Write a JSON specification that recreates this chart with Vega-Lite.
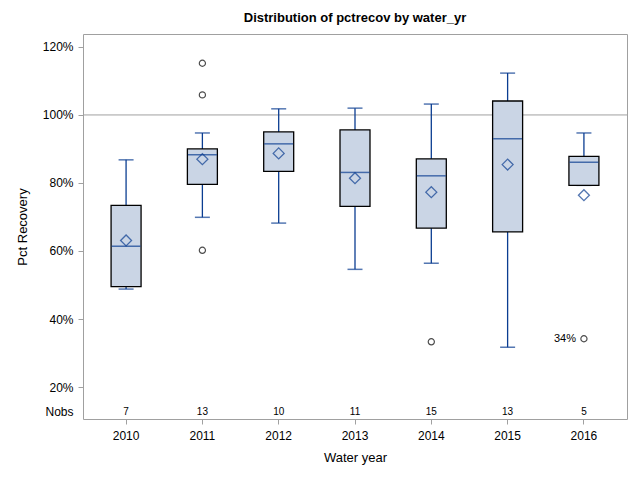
{
  "$schema": "https://vega.github.io/schema/vega-lite/v6.json",
  "width": 544,
  "height": 385,
  "autosize": {"type": "none"},
  "padding": {"left": 83, "top": 34, "right": 13, "bottom": 61},
  "background": "white",
  "title": {"text": "Distribution of pctrecov by water_yr", "font": "Liberation Sans", "fontSize": 13, "fontWeight": "bold", "color": "#000000", "offset": 9, "anchor": "middle"},
  "config": {
    "view": {"stroke": "#a0a0a0", "strokeWidth": 1},
    "axis": {"labelFont": "Liberation Sans", "titleFont": "Liberation Sans", "labelColor": "#000000", "titleColor": "#000000", "titleFontWeight": "normal", "labelFontSize": 12, "titleFontSize": 13, "grid": false, "domain": false, "tickColor": "#a0a0a0", "tickSize": 5}
  },
  "datasets": {
    "stats": [
      {"year": "2010", "lo": 48.8, "q1": 49.5, "med": 61.4, "q3": 73.4, "hi": 86.8, "mean": 63.1, "n": 7},
      {"year": "2011", "lo": 69.9, "q1": 79.6, "med": 88.3, "q3": 90.0, "hi": 94.7, "mean": 87.0, "n": 13},
      {"year": "2012", "lo": 68.2, "q1": 83.4, "med": 91.5, "q3": 95.0, "hi": 101.8, "mean": 88.7, "n": 10},
      {"year": "2013", "lo": 54.6, "q1": 73.1, "med": 83.1, "q3": 95.6, "hi": 102.0, "mean": 81.4, "n": 11},
      {"year": "2014", "lo": 56.4, "q1": 66.7, "med": 82.1, "q3": 87.1, "hi": 103.2, "mean": 77.3, "n": 15},
      {"year": "2015", "lo": 31.7, "q1": 65.6, "med": 93.0, "q3": 104.1, "hi": 112.3, "mean": 85.4, "n": 13},
      {"year": "2016", "lo": 79.3, "q1": 79.3, "med": 86.1, "q3": 87.8, "hi": 94.7, "mean": 76.4, "n": 5}
    ],
    "outliers": [
      {"year": "2011", "v": 115.2, "label": ""},
      {"year": "2011", "v": 105.9, "label": ""},
      {"year": "2011", "v": 60.2, "label": ""},
      {"year": "2014", "v": 33.3, "label": ""},
      {"year": "2016", "v": 34.2, "label": "34%"}
    ]
  },
  "encoding": {
    "x": {"field": "year", "type": "nominal", "sort": null,
      "scale": {"type": "band", "domain": ["2010","2011","2012","2013","2014","2015","2016"], "paddingInner": 0.607, "paddingOuter": 0.368},
      "axis": {"title": "Water year", "labelAngle": 0, "labelPadding": 6, "titlePadding": 10}}
  },
  "layer": [
    {
      "data": {"values": [{"ref": 100}]},
      "mark": {"type": "rule", "color": "#a0a0a0", "strokeWidth": 1},
      "encoding": {"x": null, "y": {"field": "ref", "type": "quantitative"}}
    },
    {
      "data": {"name": "stats"},
      "mark": {"type": "rule", "color": "#0b3d91", "strokeWidth": 1.3},
      "encoding": {
        "y": {"field": "lo", "type": "quantitative",
          "scale": {"domain": [10.6, 123.8], "nice": false, "zero": false},
          "axis": {"title": "Pct Recovery", "values": [12.7, 20, 40, 60, 80, 100, 120], "labelExpr": "datum.value < 15 ? 'Nobs' : datum.value + '%'", "tickColor": {"condition": {"test": "datum.value < 15", "value": "transparent"}, "value": "#a0a0a0"}, "labelPadding": 5, "titlePadding": 13}},
        "y2": {"field": "hi"}
      }
    },
    {
      "data": {"name": "stats"},
      "mark": {"type": "tick", "color": "#0b3d91", "size": 15, "thickness": 1.5},
      "encoding": {"y": {"field": "lo", "type": "quantitative"}}
    },
    {
      "data": {"name": "stats"},
      "mark": {"type": "tick", "color": "#0b3d91", "size": 15, "thickness": 1.5},
      "encoding": {"y": {"field": "hi", "type": "quantitative"}}
    },
    {
      "data": {"name": "stats"},
      "mark": {"type": "bar", "fill": "#cad5e5", "stroke": "#000000", "strokeWidth": 1.3},
      "encoding": {"y": {"field": "q1", "type": "quantitative"}, "y2": {"field": "q3"}}
    },
    {
      "data": {"name": "stats"},
      "mark": {"type": "tick", "color": "#0b3d91", "size": 29, "thickness": 1.5},
      "encoding": {"y": {"field": "med", "type": "quantitative"}}
    },
    {
      "data": {"name": "stats"},
      "mark": {"type": "point", "shape": "diamond", "filled": false, "color": "#0b3d91", "size": 120, "strokeWidth": 1.3},
      "encoding": {"y": {"field": "mean", "type": "quantitative"}}
    },
    {
      "data": {"name": "outliers"},
      "mark": {"type": "point", "shape": "circle", "filled": false, "color": "#000000", "size": 38, "strokeWidth": 1.2},
      "encoding": {"y": {"field": "v", "type": "quantitative"}}
    },
    {
      "data": {"name": "outliers"},
      "mark": {"type": "text", "align": "right", "baseline": "middle", "dx": -8, "font": "Liberation Sans", "fontSize": 11, "color": "#000000"},
      "encoding": {"y": {"field": "v", "type": "quantitative"}, "text": {"field": "label"}}
    },
    {
      "data": {"name": "stats"},
      "mark": {"type": "text", "baseline": "middle", "font": "Liberation Sans", "fontSize": 10, "color": "#000000"},
      "encoding": {"y": {"datum": 12.7, "type": "quantitative"}, "text": {"field": "n"}}
    }
  ]
}
